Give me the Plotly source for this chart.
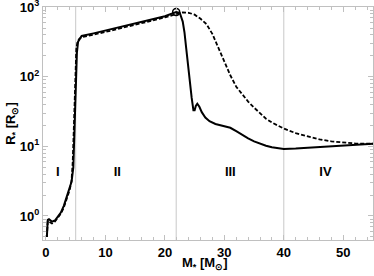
import plotly.graph_objects as go

# solid track: mass [Msun] vs radius [Rsun]
m_solid = [0.15, 0.2, 0.3, 0.5, 1.0, 1.5, 2.0, 2.5, 3.0, 3.5, 3.9, 4.3, 4.6, 4.8, 5.0, 5.2, 5.4, 5.7, 6.0, 8.0,
           10, 12, 14, 16, 18, 20, 21.9, 22.5, 23.0, 23.3, 23.6, 23.9, 24.2, 24.5, 24.8, 25.0, 25.2, 25.45,
           25.8, 26.2, 26.8, 27.5, 28.5, 30, 31, 32, 33, 34, 35, 36, 37, 38, 39, 40, 42, 45, 48, 51, 55]
r_solid = [0.5, 0.75, 0.88, 0.9, 0.83, 0.86, 0.97, 1.12, 1.4, 1.85, 2.4, 3.1, 5.0, 15, 60, 220, 320, 360, 385, 420,
           460, 505, 555, 610, 670, 740, 850, 830, 620, 430, 250, 140, 85, 50, 33, 33, 38, 41,
           37, 31, 26, 23, 21, 19.5, 18.5, 16.5, 14.5, 13.0, 11.8, 10.9, 10.2, 9.7, 9.35, 9.2, 9.3, 9.6, 10.0, 10.4, 10.9]

# dashed track
m_dash = [0.15, 0.2, 0.3, 0.6, 1.0, 1.5, 2.0, 2.5, 3.0, 3.5, 4.0, 4.3, 4.5, 4.7, 4.9, 5.1, 5.3, 5.6, 6.0, 8,
          10, 12, 14, 16, 18, 20, 21.9, 23, 24, 25, 26, 27, 28, 29, 30, 31, 32, 33, 34, 35, 36, 37, 38,
          40, 42, 44, 46, 48, 50, 52, 55]
r_dash = [0.5, 0.7, 0.85, 0.82, 0.78, 0.83, 0.93, 1.08, 1.32, 1.75, 2.4, 3.2, 6, 20, 110, 250, 320, 350, 370, 400,
          440, 485, 530, 585, 645, 715, 800, 840, 830, 780, 680, 570, 410, 260, 170, 105, 72, 56, 44, 36, 29.5, 25, 22,
          18, 15.5, 13.8, 12.6, 11.8, 11.3, 11.0, 10.9]

peak_m = [21.9]
peak_r = [850]

phase_lines = [5.0, 21.9, 40.0]
phase_labels = ["I", "II", "III", "IV"]
phase_label_m = [2.0, 12.0, 31.0, 47.0]
phase_label_r = 4.2

x_tick_vals = [0, 10, 20, 30, 40, 50]
y_tick_vals = [1, 10, 100, 1000]
y_tick_text = ["10<sup>0</sup>", "10<sup>1</sup>", "10<sup>2</sup>", "10<sup>3</sup>"]

font = dict(family="Liberation Sans, Arial, sans-serif", size=13, color="black")

fig = go.Figure()
fig.add_trace(go.Scatter(x=m_dash, y=r_dash, mode="lines",
                         line=dict(color="black", width=1.8, dash="4px,2px"), showlegend=False))
fig.add_trace(go.Scatter(x=m_solid, y=r_solid, mode="lines",
                         line=dict(color="black", width=2.0), showlegend=False))
fig.add_trace(go.Scatter(x=peak_m, y=peak_r, mode="markers",
                         marker=dict(size=7, color="rgba(0,0,0,0)", line=dict(color="black", width=1.5)),
                         showlegend=False))
fig.add_trace(go.Scatter(x=phase_label_m, y=[phase_label_r] * len(phase_labels), mode="text",
                         text=[f"<b>{t}</b>" for t in phase_labels],
                         textfont=font, showlegend=False))

for xv in phase_lines:
    fig.add_shape(type="line", xref="x", yref="paper", x0=xv, x1=xv, y0=0, y1=1,
                  line=dict(color="#c8c8c8", width=1), layer="below")

axis_common = dict(showline=True, linecolor="#c0c0c0", linewidth=1, mirror="ticks",
                   ticks="inside", tickcolor="#c0c0c0", showgrid=False, zeroline=False,
                   tickfont=font, automargin=False, ticklabeloverflow="allow")

fig.update_xaxes(range=[-0.5, 55], tickvals=x_tick_vals,
                 ticktext=[f"<b>{v}</b>" for v in x_tick_vals],
                 ticklen=5,
                 minor=dict(dtick=2, ticks="inside", ticklen=3, tickcolor="#c0c0c0", showgrid=False),
                 **axis_common)
fig.update_yaxes(type="log", range=[-0.345, 3.002], tickvals=y_tick_vals,
                 ticktext=[f"<b>{t}</b>" for t in y_tick_text],
                 ticklen=5,
                 minor=dict(dtick="D1", ticks="inside", ticklen=3, tickcolor="#c0c0c0", showgrid=False),
                 title=dict(text="<b>R<sub>*</sub> [R<sub>⊙</sub>]</b>", font=font, standoff=0),
                 **axis_common)

fig.add_annotation(text="<b>M<sub>*</sub> [M<sub>⊙</sub>]</b>", xref="paper", yref="paper",
                   x=0.49, y=-23 / 233, xanchor="center", yanchor="middle", showarrow=False, font=font)

fig.update_layout(width=374, height=276, margin=dict(l=43, r=1, t=7, b=36),
                  plot_bgcolor="white", paper_bgcolor="white", font=font)

fig.write_html("out.html", config={"displayModeBar": False},
               post_script="document.body.style.margin='0';document.body.style.padding='0';")
